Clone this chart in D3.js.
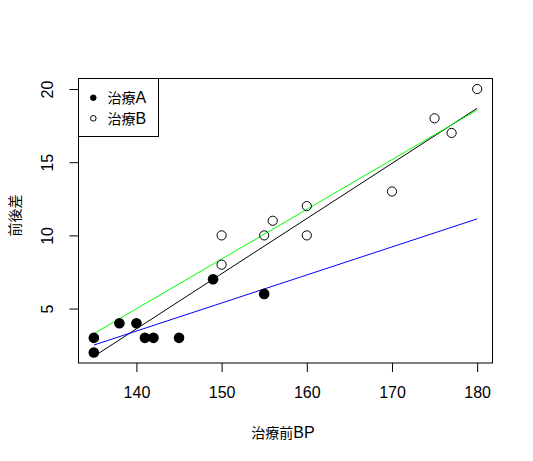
<!DOCTYPE html>
<html>
<head>
<meta charset="utf-8">
<script src="https://cdn.jsdelivr.net/npm/d3@7"></script>
<style>
  body { margin: 0; background: #fff; }
  svg text { font-family: "Liberation Sans", Arial, "Noto Sans CJK JP", sans-serif; fill: #000; }
</style>
</head>
<body>
<svg></svg>
<script>
const w = 533;
const h = 461;
const svg = d3.select('svg').attr('width', w).attr('height', h);

// 治療A (filled)
const aBP = [135, 135, 138, 140, 141, 142, 145, 149, 155];
const aDiff = [2, 3, 4, 4, 3, 3, 3, 7, 6];
// 治療B (open)
const bBP = [150, 150, 155, 156, 160, 160, 170, 175, 177, 180];
const bDiff = [8, 10, 10, 11, 12, 10, 13, 18, 17, 20];

const xTicks = [140, 150, 160, 170, 180];
const yTicks = [5, 10, 15, 20];
const groups = ['治療A', '治療B'];

const padL = 78.5, padR = 492.5, padT = 78.5, padB = 363;

// R style 4% extension of the data range
const allX = aBP.concat(bBP);
const allY = aDiff.concat(bDiff);
const xr = d3.extent(allX), yr = d3.extent(allY);
const xPad = (xr[1] - xr[0]) * 0.04, yPad = (yr[1] - yr[0]) * 0.04;

const x = d3.scaleLinear().domain([xr[0] - xPad, xr[1] + xPad]).range([padL, padR]);
const y = d3.scaleLinear().domain([yr[0] - yPad, yr[1] + yPad]).range([padB, padT]);

function fit(xs, ys) {
  const mx = d3.mean(xs), my = d3.mean(ys);
  let sxy = 0, sxx = 0;
  xs.forEach((v, i) => { sxy += (v - mx) * (ys[i] - my); sxx += (v - mx) * (v - mx); });
  const b = sxy / sxx;
  return (v) => my + b * (v - mx);
}

const fits = [
  { f: fit(allX, allY), color: '#000000' },
  { f: fit(aBP, aDiff), color: '#0000ff' },
  { f: fit(bBP, bDiff), color: '#00ff00' },
];

// kanji come out a bit smaller than latin letters in the reference
function mixed(sel, str) {
  const runs = str.match(/[\u3000-\u9fff]+|[^\u3000-\u9fff]+/g);
  runs.forEach((r) => {
    sel.append('tspan')
      .style('font-size', /[\u3000-\u9fff]/.test(r) ? '14px' : '16px')
      .text(r);
  });
}

// axes
const xAxis = d3.axisBottom(x).tickValues(xTicks).tickSize(9).tickPadding(14.5);
const gx = svg.append('g').attr('transform', `translate(0, ${padB})`).call(xAxis);
gx.select('.domain').remove();
gx.selectAll('text').style('font-size', '16px');

const yAxis = d3.axisLeft(y).tickValues(yTicks).tickSize(9);
const gy = svg.append('g').attr('transform', `translate(${padL}, 0)`).call(yAxis);
gy.select('.domain').remove();
gy.selectAll('text')
  .style('font-size', '16px')
  .attr('x', 0).attr('y', 0).attr('dy', '0.36em')
  .attr('text-anchor', 'middle')
  .attr('transform', 'translate(-31, 0) rotate(-90)');

svg.selectAll('.tick line').attr('stroke', '#000');
svg.selectAll('.tick text').attr('fill', '#000');

svg.append('text')
  .attr('x', 283).attr('y', 437.5)
  .attr('text-anchor', 'middle')
  .call(mixed, '治療前BP');
svg.append('text')
  .attr('transform', `translate(20, 215.5) rotate(-90)`)
  .attr('text-anchor', 'middle')
  .call(mixed, '前後差');

// regression lines
fits.forEach((l) => {
  svg.append('line')
    .attr('x1', x(xr[0])).attr('y1', y(l.f(xr[0])))
    .attr('x2', x(xr[1])).attr('y2', y(l.f(xr[1])))
    .attr('stroke', l.color).attr('stroke-width', 1);
});

// points
svg.selectAll('circle.a')
  .data(aBP.map((v, i) => [v, aDiff[i]]))
  .enter().append('circle')
  .attr('class', 'a')
  .attr('cx', (d) => x(d[0])).attr('cy', (d) => y(d[1]))
  .attr('r', 5.3).attr('fill', '#000');

svg.selectAll('circle.b')
  .data(bBP.map((v, i) => [v, bDiff[i]]))
  .enter().append('circle')
  .attr('class', 'b')
  .attr('cx', (d) => x(d[0])).attr('cy', (d) => y(d[1]))
  .attr('r', 4.6).attr('fill', 'none').attr('stroke', '#000').attr('stroke-width', 1);

// box
svg.append('rect')
  .attr('x', padL).attr('y', padT)
  .attr('width', padR - padL).attr('height', padB - padT)
  .attr('fill', 'none').attr('stroke', '#000');

// legend
svg.append('rect')
  .attr('x', padL).attr('y', padT)
  .attr('width', 80).attr('height', 58)
  .attr('fill', '#fff').attr('stroke', '#000');
groups.forEach((g, i) => {
  const cy = 97.7 + i * 20.6;
  svg.append('circle')
    .attr('cx', 93.3).attr('cy', cy).attr('r', 2.8)
    .attr('fill', i === 0 ? '#000' : 'none').attr('stroke', '#000');
  svg.append('text')
    .attr('x', 107.5).attr('y', cy + 5.5)
    .call(mixed, g);
});
</script>
</body>
</html>
